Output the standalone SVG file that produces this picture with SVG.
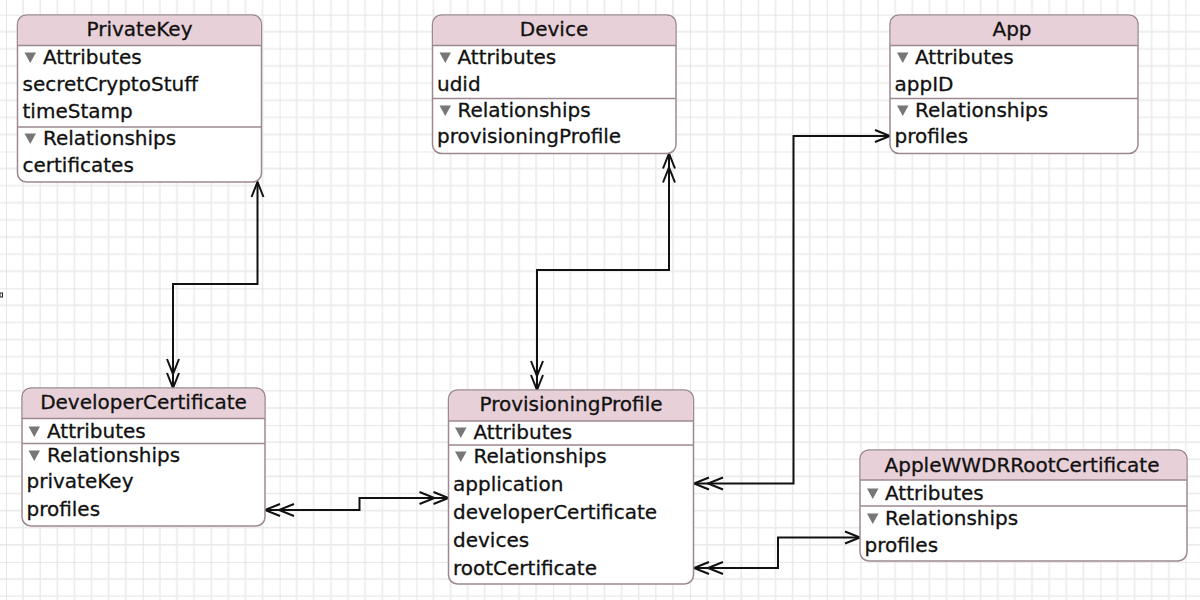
<svg xmlns="http://www.w3.org/2000/svg" width="1200" height="600" viewBox="0 0 1200 600">
<style>
.box{fill:#fff;stroke:#9d8891;stroke-width:1.5}
.hdr{fill:#e8d0d8;stroke:none}
.sep{stroke:#9d8891;stroke-width:1.5;fill:none}
.t{font-family:"DejaVu Sans","Liberation Sans",sans-serif;font-size:20px;fill:#111;stroke:#111;stroke-width:0.3}
.ttl{text-anchor:middle}
.tri{fill:#777}
.conn{fill:none;stroke:#111;stroke-width:2}
</style>
<defs>
<pattern id="grid" patternUnits="userSpaceOnUse" x="6" y="14.7" width="136.8" height="136.8">
<path d="M17.1 0V136.8M34.2 0V136.8M51.3 0V136.8M68.4 0V136.8M85.5 0V136.8M102.6 0V136.8M119.7 0V136.8M0 17.1H136.8M0 34.2H136.8M0 51.3H136.8M0 68.4H136.8M0 85.5H136.8M0 102.6H136.8M0 119.7H136.8" stroke="#ebebeb" stroke-width="1.6" fill="none"/>
<path d="M0 0V136.8M0 0H136.8" stroke="#e0e0e0" stroke-width="1.6" fill="none"/>
</pattern>
<marker id="one" markerUnits="userSpaceOnUse" orient="auto-start-reverse" markerWidth="40" markerHeight="20" viewBox="-35 -10 40 20" refX="0" refY="0" overflow="visible">
<path d="M-15,-6L0,0L-15,6" fill="none" stroke="#111" stroke-width="2"/>
</marker>
<marker id="many" markerUnits="userSpaceOnUse" orient="auto-start-reverse" markerWidth="40" markerHeight="20" viewBox="-35 -10 40 20" refX="0" refY="0" overflow="visible">
<path d="M-15,-6L0,0L-15,6M-29,-6L-14,0L-29,6" fill="none" stroke="#111" stroke-width="2"/>
</marker>
</defs>
<rect x="0" y="0" width="1200" height="600" fill="#fff"/>
<rect x="0" y="0" width="1200" height="600" fill="url(#grid)"/>
<rect x="0" y="293" width="2.5" height="4" fill="#fff" stroke="#222" stroke-width="1"/>

<g id="connectors">
<path class="conn" d="M257.5,182V284H173V388" marker-start="url(#one)" marker-end="url(#many)"/>
<path class="conn" d="M265,510H359.5V498H448.5" marker-start="url(#many)" marker-end="url(#many)"/>
<path class="conn" d="M669,153.5V270H537V390" marker-start="url(#many)" marker-end="url(#many)"/>
<path class="conn" d="M890,136H793.5V483.5H694" marker-start="url(#one)" marker-end="url(#many)"/>
<path class="conn" d="M694,568H778V537.5H860" marker-start="url(#many)" marker-end="url(#one)"/>
</g>

<g id="PrivateKey">
<rect class="box" x="17.5" y="15" width="244" height="167" rx="9"/>
<path class="hdr" d="M18.3,45.5V24A8.3,8.3 0 0 1 26.6,15.8H252.4A8.3,8.3 0 0 1 260.7,24V45.5Z"/>
<path class="sep" d="M17.5,45.5H261.5M17.5,127H261.5"/>
<text class="t ttl" x="139.5" y="36">PrivateKey</text>
<path class="tri" d="M24.5,52.5H36L30.25,63Z"/>
<text class="t" x="43" y="64">Attributes</text>
<text class="t" x="22.5" y="91">secretCryptoStuff</text>
<text class="t" x="22.5" y="118">timeStamp</text>
<path class="tri" d="M24.5,133.5H36L30.25,144Z"/>
<text class="t" x="43" y="145">Relationships</text>
<text class="t" x="22.5" y="172">certificates</text>
</g>

<g id="Device">
<rect class="box" x="432.5" y="15" width="243.5" height="138.5" rx="9"/>
<path class="hdr" d="M433.3,45.5V24A8.3,8.3 0 0 1 441.6,15.8H666.9A8.3,8.3 0 0 1 675.2,24V45.5Z"/>
<path class="sep" d="M432.5,45.5H676M432.5,98.5H676"/>
<text class="t ttl" x="554" y="36">Device</text>
<path class="tri" d="M439.5,52.5H451L445.25,63Z"/>
<text class="t" x="457.5" y="64">Attributes</text>
<text class="t" x="437" y="91">udid</text>
<path class="tri" d="M439.5,105.5H451L445.25,116Z"/>
<text class="t" x="457.5" y="117">Relationships</text>
<text class="t" x="437" y="143">provisioningProfile</text>
</g>

<g id="App">
<rect class="box" x="890" y="15" width="248" height="138.5" rx="9"/>
<path class="hdr" d="M890.8,45.5V24A8.3,8.3 0 0 1 899.1,15.8H1128.9A8.3,8.3 0 0 1 1137.2,24V45.5Z"/>
<path class="sep" d="M890,45.5H1138M890,98.5H1138"/>
<text class="t ttl" x="1012" y="36">App</text>
<path class="tri" d="M897,52.5H908.5L902.75,63Z"/>
<text class="t" x="915" y="64">Attributes</text>
<text class="t" x="894.5" y="91">appID</text>
<path class="tri" d="M897,105.5H908.5L902.75,116Z"/>
<text class="t" x="915" y="117">Relationships</text>
<text class="t" x="894.5" y="143">profiles</text>
</g>

<g id="DeveloperCertificate">
<rect class="box" x="22" y="388" width="243" height="138" rx="9"/>
<path class="hdr" d="M22.8,418.5V397A8.3,8.3 0 0 1 31.1,388.8H255.9A8.3,8.3 0 0 1 264.2,397V418.5Z"/>
<path class="sep" d="M22,418.5H265M22,443.5H265"/>
<text class="t ttl" x="143.5" y="409">DeveloperCertificate</text>
<path class="tri" d="M28.5,426.5H40L34.25,437Z"/>
<text class="t" x="47" y="438">Attributes</text>
<path class="tri" d="M28.5,450.5H40L34.25,461Z"/>
<text class="t" x="47" y="462">Relationships</text>
<text class="t" x="26.5" y="488">privateKey</text>
<text class="t" x="26.5" y="516">profiles</text>
</g>

<g id="ProvisioningProfile">
<rect class="box" x="448.5" y="390" width="245" height="194" rx="9"/>
<path class="hdr" d="M449.3,421V399A8.3,8.3 0 0 1 457.6,390.8H684.4A8.3,8.3 0 0 1 692.7,399V421Z"/>
<path class="sep" d="M448.5,421H693.5M448.5,445H693.5"/>
<text class="t ttl" x="571" y="411">ProvisioningProfile</text>
<path class="tri" d="M455,427.5H466.5L460.75,438Z"/>
<text class="t" x="473.5" y="439">Attributes</text>
<path class="tri" d="M455,451.5H466.5L460.75,462Z"/>
<text class="t" x="473.5" y="463">Relationships</text>
<text class="t" x="453" y="491">application</text>
<text class="t" x="453" y="519">developerCertificate</text>
<text class="t" x="453" y="547">devices</text>
<text class="t" x="453" y="575">rootCertificate</text>
</g>

<g id="AppleWWDRRootCertificate">
<rect class="box" x="860" y="450" width="327" height="111" rx="9"/>
<path class="hdr" d="M860.8,480V459A8.3,8.3 0 0 1 869.1,450.8H1177.9A8.3,8.3 0 0 1 1186.2,459V480Z"/>
<path class="sep" d="M860,480H1187M860,506H1187"/>
<text class="t ttl" x="1022" y="472">AppleWWDRRootCertificate</text>
<path class="tri" d="M867,488.5H878.5L872.75,499Z"/>
<text class="t" x="885" y="500">Attributes</text>
<path class="tri" d="M867,513.5H878.5L872.75,524Z"/>
<text class="t" x="885" y="525">Relationships</text>
<text class="t" x="864.5" y="552">profiles</text>
</g>
</svg>
